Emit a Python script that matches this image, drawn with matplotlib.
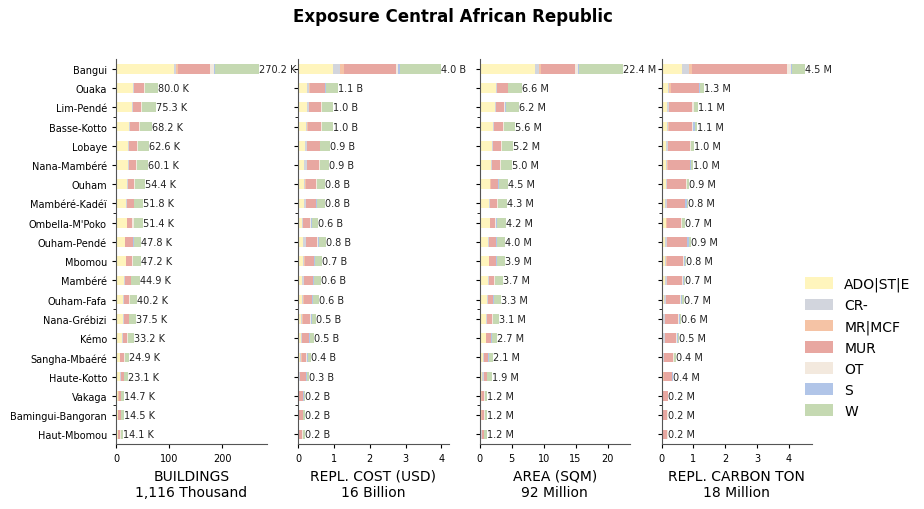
import numpy as np
import pandas as pd
import matplotlib
matplotlib.use("Agg")
import matplotlib.pyplot as plt

regions = ["Bangui", "Ouaka", "Lim-Pendé", "Basse-Kotto", "Lobaye", "Nana-Mambéré",
           "Ouham", "Mambéré-Kadéï", "Ombella-M'Poko", "Ouham-Pendé", "Mbomou",
           "Mambéré", "Ouham-Fafa", "Nana-Grébizi", "Kémo", "Sangha-Mbaéré",
           "Haute-Kotto", "Vakaga", "Bamingui-Bangoran", "Haut-Mbomou"]
categories = ["ADO|ST|E", "CR-", "MR|MCF", "MUR", "OT", "S", "W"]
colors = ["#fff5bd", "#d2d5dd", "#f5c3a5", "#e8a7a1", "#f3e9de", "#b1c5e8", "#c5d9b2"]

# thousand buildings, columns follow categories
buildings = [
    [108.6, 3.8, 3.8, 60.6, 7.6, 1.9, 83.9],
    [32.0, 1.2, 0.3, 18.5, 3.2, 0.3, 24.5],
    [29.5, 1.8, 0.3, 15.3, 2.0, 0.2, 26.2],
    [25.0, 1.8, 0.4, 16.0, 1.8, 0.3, 22.9],
    [23.2, 1.8, 0.3, 14.2, 1.8, 0.2, 21.1],
    [23.0, 0.8, 0.3, 14.1, 1.8, 0.2, 19.9],
    [21.0, 0.8, 0.3, 12.2, 1.8, 0.2, 18.1],
    [19.5, 0.7, 0.3, 13.2, 1.0, 0.2, 16.9],
    [20.0, 0.6, 0.3, 9.6, 3.7, 0.3, 16.9],
    [17.2, 0.5, 0.2, 14.0, 0.6, 1.8, 13.5],
    [18.0, 0.5, 0.2, 12.1, 1.2, 0.2, 15.0],
    [16.0, 0.7, 0.2, 11.3, 0.8, 0.2, 15.7],
    [14.0, 1.8, 0.2, 8.9, 0.8, 0.2, 14.3],
    [14.0, 0.5, 0.2, 9.6, 0.8, 0.2, 12.2],
    [12.2, 0.4, 0.2, 8.2, 0.8, 0.2, 11.2],
    [8.0, 0.3, 0.2, 7.2, 1.0, 0.1, 8.1],
    [8.4, 0.4, 0.2, 5.3, 0.9, 0.1, 7.8],
    [4.3, 0.4, 0.3, 4.0, 1.2, 0.1, 4.4],
    [3.6, 0.4, 0.3, 4.8, 1.1, 0.1, 4.2],
    [3.0, 1.2, 0.3, 2.8, 1.5, 0.1, 5.2],
]

# billion USD
repl_cost = [
    [0.965, 0.195, 0.11, 1.476, 0.04, 0.055, 1.159],
    [0.26, 0.04, 0.03, 0.42, 0.01, 0.01, 0.35],
    [0.25, 0.05, 0.01, 0.32, 0.03, 0.01, 0.31],
    [0.21, 0.05, 0.03, 0.36, 0.01, 0.01, 0.31],
    [0.20, 0.05, 0.01, 0.34, 0.01, 0.01, 0.28],
    [0.18, 0.06, 0.01, 0.34, 0.01, 0.02, 0.25],
    [0.18, 0.02, 0.01, 0.29, 0.03, 0.01, 0.22],
    [0.16, 0.05, 0.01, 0.28, 0.01, 0.02, 0.23],
    [0.12, 0.02, 0.01, 0.19, 0.03, 0.01, 0.19],
    [0.15, 0.07, 0.01, 0.31, 0.01, 0.03, 0.21],
    [0.15, 0.03, 0.01, 0.25, 0.01, 0.03, 0.18],
    [0.12, 0.05, 0.01, 0.23, 0.01, 0.02, 0.19],
    [0.12, 0.03, 0.01, 0.23, 0.01, 0.03, 0.16],
    [0.07, 0.05, 0.01, 0.21, 0.01, 0.03, 0.13],
    [0.07, 0.04, 0.01, 0.18, 0.02, 0.01, 0.12],
    [0.05, 0.03, 0.02, 0.13, 0.01, 0.04, 0.09],
    [0.03, 0.02, 0.01, 0.16, 0.01, 0.01, 0.08],
    [0.01, 0.01, 0.01, 0.11, 0.01, 0.01, 0.04],
    [0.01, 0.02, 0.01, 0.09, 0.01, 0.01, 0.05],
    [0.01, 0.02, 0.01, 0.08, 0.01, 0.01, 0.06],
]

# million square metres
area = [
    [8.7, 0.6, 0.26, 5.3, 0.47, 0.2, 6.87],
    [2.6, 0.05, 0.1, 1.62, 0.1, 0.03, 2.1],
    [2.4, 0.15, 0.03, 1.3, 0.15, 0.03, 2.14],
    [2.08, 0.15, 0.03, 1.46, 0.03, 0.1, 1.75],
    [1.93, 0.15, 0.03, 1.25, 0.15, 0.03, 1.66],
    [1.77, 0.1, 0.03, 1.3, 0.1, 0.03, 1.67],
    [1.6, 0.1, 0.03, 1.15, 0.03, 0.15, 1.44],
    [1.46, 0.1, 0.03, 1.15, 0.1, 0.03, 1.43],
    [1.56, 0.03, 0.03, 0.85, 0.15, 0.03, 1.55],
    [1.3, 0.2, 0.03, 1.05, 0.03, 0.15, 1.24],
    [1.46, 0.05, 0.03, 1.0, 0.1, 0.03, 1.23],
    [1.3, 0.2, 0.03, 0.8, 0.08, 0.04, 1.25],
    [1.15, 0.1, 0.03, 0.85, 0.03, 0.1, 1.04],
    [0.94, 0.2, 0.03, 0.8, 0.08, 0.03, 1.02],
    [0.94, 0.04, 0.03, 0.75, 0.1, 0.02, 0.82],
    [0.57, 0.1, 0.05, 0.55, 0.1, 0.03, 0.7],
    [0.42, 0.2, 0.03, 0.5, 0.05, 0.02, 0.68],
    [0.25, 0.05, 0.05, 0.35, 0.08, 0.02, 0.4],
    [0.22, 0.06, 0.05, 0.38, 0.07, 0.02, 0.4],
    [0.18, 0.2, 0.04, 0.2, 0.1, 0.02, 0.46],
]

# million tons
carbon = [
    [0.635, 0.22, 0.094, 3.0, 0.115, 0.03, 0.406],
    [0.2, 0.02, 0.06, 0.88, 0.02, 0.01, 0.13],
    [0.16, 0.06, 0.01, 0.73, 0.05, 0.01, 0.12],
    [0.16, 0.05, 0.02, 0.73, 0.02, 0.06, 0.07],
    [0.14, 0.06, 0.01, 0.69, 0.02, 0.01, 0.1],
    [0.14, 0.04, 0.01, 0.69, 0.02, 0.02, 0.08],
    [0.14, 0.02, 0.01, 0.6, 0.03, 0.01, 0.06],
    [0.1, 0.06, 0.01, 0.57, 0.01, 0.04, 0.05],
    [0.14, 0.01, 0.01, 0.44, 0.03, 0.01, 0.08],
    [0.1, 0.06, 0.01, 0.63, 0.01, 0.04, 0.06],
    [0.1, 0.05, 0.01, 0.52, 0.03, 0.01, 0.06],
    [0.1, 0.06, 0.01, 0.48, 0.02, 0.04, 0.03],
    [0.09, 0.04, 0.01, 0.44, 0.02, 0.03, 0.06],
    [0.06, 0.04, 0.01, 0.41, 0.02, 0.03, 0.05],
    [0.06, 0.04, 0.01, 0.35, 0.03, 0.01, 0.04],
    [0.03, 0.04, 0.01, 0.29, 0.01, 0.02, 0.04],
    [0.02, 0.04, 0.01, 0.26, 0.01, 0.01, 0.02],
    [0.01, 0.01, 0.01, 0.16, 0.01, 0.0, 0.01],
    [0.01, 0.01, 0.01, 0.15, 0.01, 0.0, 0.01],
    [0.01, 0.01, 0.01, 0.15, 0.01, 0.0, 0.01],
]

panels = [
    (buildings, "BUILDINGS", "K", "Thousand"),
    (repl_cost, "REPL. COST (USD)", "B", "Billion"),
    (area, "AREA (SQM)", "M", "Million"),
    (carbon, "REPL. CARBON TON", "M", "Million"),
]

fig = plt.figure(figsize=(9.24, 5.1), dpi=100)
fig.suptitle("Exposure Central African Republic", fontsize=12, fontweight="bold",
             x=0.49, y=0.985)

lefts = [0.1255, 0.3225, 0.519, 0.716]
y = np.arange(len(regions))

for i, (values, name, unit, word) in enumerate(panels):
    ax = fig.add_axes([lefts[i], 0.1275, 0.163, 0.7545])
    df = pd.DataFrame(values, index=regions, columns=categories)
    start = np.zeros(len(regions))
    for cat, col in zip(categories, colors):
        ax.barh(y, df[cat].values, left=start, height=0.5, color=col, label=cat)
        start = start + df[cat].values
    totals = df.sum(axis=1).values
    for yy, t in zip(y, totals):
        ax.text(t, yy, "{:.1f} {}".format(t, unit), va="center", ha="left", fontsize=7, color="#222222")
    ax.set_ylim(len(regions) - 0.5, -0.5)
    ax.set_xlim(0, totals.max() * 1.05)
    ax.set_yticks(y)
    ax.set_yticks([2.5, 7.5, 12.5, 17.5], minor=True)
    if i == 0:
        ax.set_yticklabels(regions, fontsize=7)
    else:
        ax.set_yticklabels([])
    ax.tick_params(axis="x", labelsize=7, length=3)
    ax.tick_params(axis="y", which="major", length=3)
    ax.tick_params(axis="y", which="minor", length=2)
    for s in ["top", "right"]:
        ax.spines[s].set_visible(False)
    for s in ["left", "bottom"]:
        ax.spines[s].set_color("#555555")
    total = totals.sum()
    if unit == "K":
        total_str = "{:,.0f} {}".format(total, word)
    else:
        total_str = "{:.0f} {}".format(total, word)
    ax.set_xlabel(name + "\n" + total_str, fontsize=10)

handles, labels = ax.get_legend_handles_labels()
fig.legend(handles, labels, loc="center left", bbox_to_anchor=(0.858, 0.317),
           frameon=False, fontsize=10, handlelength=2.0, handleheight=0.9, labelspacing=0.5)

plt.savefig("out.png", dpi=100)
